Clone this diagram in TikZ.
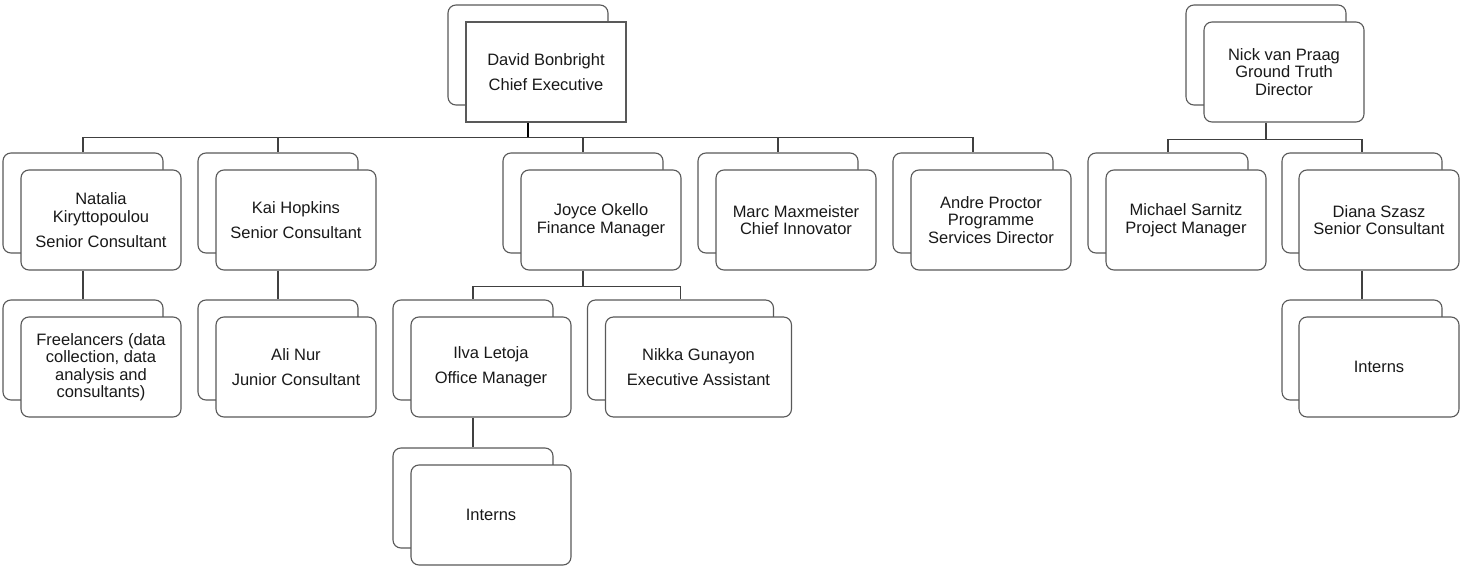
\documentclass[tikz,border=0pt]{standalone}
\usepackage{fontspec}
\setmainfont{Liberation Sans}
\begin{document}
\begin{tikzpicture}[
    x=1pt, y=-1pt,
    cardback/.style={rectangle, rounded corners=8pt, draw=black!65, fill=white, line width=1.1pt, minimum width=160pt, minimum height=100pt},
    card/.style={cardback, align=center, text=black!90, font=\fontsize{16.5}{17.5}\selectfont},
    link/.style={draw=black!75, line width=1.1pt}
]
\useasboundingbox (0,0) rectangle (1460,567);

% Top level
\node[cardback] (ceo-b) at (528,55) {};
\node[card, sharp corners] (ceo) at (546,72) {David Bonbright\\[7.5pt]Chief Executive};
\node[cardback] (nick-b) at (1266,55) {};
\node[card] (nick) at (1284,72) {Nick van Praag\\Ground Truth\\Director};

% Second level
\node[cardback] (natalia-b) at (83,203) {};
\node[card] (natalia) at (101,220) {Natalia\\Kiryttopoulou\\[7.5pt]Senior Consultant};
\node[cardback] (kai-b) at (278,203) {};
\node[card] (kai) at (296,220) {Kai Hopkins\\[7.5pt]Senior Consultant};
\node[cardback] (joyce-b) at (583,203) {};
\node[card] (joyce) at (601,220) {Joyce Okello\\Finance Manager};
\node[cardback] (marc-b) at (778,203) {};
\node[card] (marc) at (796,220) {Marc Maxmeister\\Chief Innovator};
\node[cardback] (andre-b) at (973,203) {};
\node[card] (andre) at (991,220) {Andre Proctor\\Programme\\Services Director};
\node[cardback] (michael-b) at (1168,203) {};
\node[card] (michael) at (1186,220) {Michael Sarnitz\\Project Manager};
\node[cardback] (diana-b) at (1362,203) {};
\node[card] (diana) at (1379,220) {Diana Szasz\\Senior Consultant};

% Third level
\node[cardback] (free-b) at (83,350) {};
\node[card] (free) at (101,367) {Freelancers (data\\collection, data\\analysis and\\consultants)};
\node[cardback] (ali-b) at (278,350) {};
\node[card] (ali) at (296,367) {Ali Nur\\[7.5pt]Junior Consultant};
\node[cardback] (ilva-b) at (473,350) {};
\node[card] (ilva) at (491,367) {Ilva Letoja\\[7.5pt]Office Manager};
\node[cardback, minimum width=186pt] (nikka-b) at (680.5,350) {};
\node[card, minimum width=186pt] (nikka) at (698.5,367) {Nikka Gunayon\\[7.5pt]Executive Assistant};
\node[cardback] (internsb-b) at (1362,350) {};
\node[card] (internsb) at (1379,367) {Interns};

% Fourth level
\node[cardback] (internsa-b) at (473,498) {};
\node[card] (internsa) at (491,515) {Interns};

% Connectors
\draw[link, draw=black, line width=2pt] (ceo-b |- ceo.south) -- ++(0,15) coordinate (ceo-bus);
\foreach \c in {natalia,kai,joyce,marc,andre}
  \draw[link] (ceo-bus) -| (\c-b.north);

\draw[link] (nick-b |- nick.south) -- ++(0,17) coordinate (nick-bus);
\foreach \c in {michael,diana}
  \draw[link] (nick-bus) -| (\c-b.north);

\draw[link] (joyce-b |- joyce.south) -- ++(0,16) coordinate (joyce-bus);
\foreach \c in {ilva,nikka}
  \draw[link] (joyce-bus) -| (\c-b.north);

\draw[link] (natalia-b |- natalia.south) -- (free-b.north);
\draw[link] (kai-b |- kai.south) -- (ali-b.north);
\draw[link] (ilva-b |- ilva.south) -- (internsa-b.north);
\draw[link] (diana-b |- diana.south) -- (internsb-b.north);

\end{tikzpicture}
\end{document}
